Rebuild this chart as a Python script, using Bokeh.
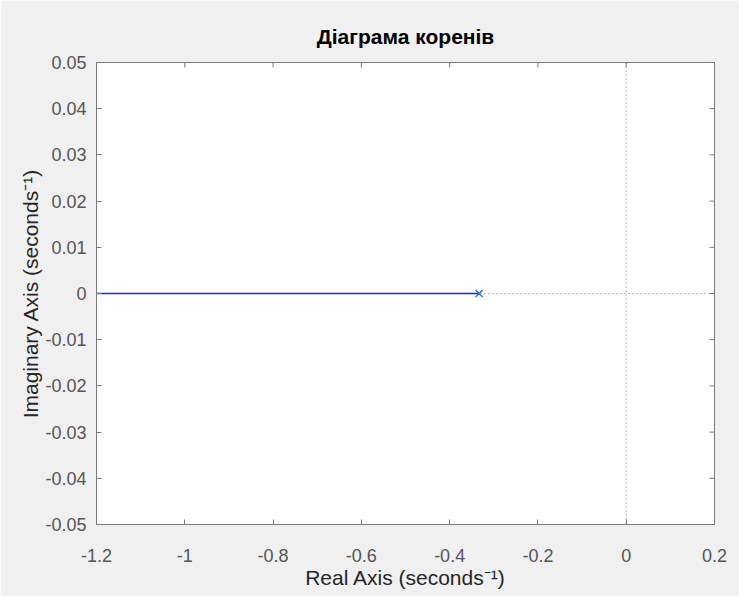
import math
from bokeh.plotting import figure
from bokeh.models import FixedTicker, Span, Range1d
from bokeh.embed import file_html
from bokeh.resources import INLINE

# data
pole_real = [-0.3333]
pole_imag = [0.0]
locus_real = [-1.2, -0.3333]
locus_imag = [0.0, 0.0]
x_ticks = [-1.2, -1.0, -0.8, -0.6, -0.4, -0.2, 0.0, 0.2]
x_labels = ["-1.2", "-1", "-0.8", "-0.6", "-0.4", "-0.2", "0", "0.2"]
y_ticks = [-0.05, -0.04, -0.03, -0.02, -0.01, 0.0, 0.01, 0.02, 0.03, 0.04, 0.05]
y_labels = ["-0.05", "-0.04", "-0.03", "-0.02", "-0.01", "0", "0.01", "0.02", "0.03", "0.04", "0.05"]
title = "Діаграма коренів"
x_label = "Real Axis (seconds⁻¹)"
y_label = "Imaginary Axis (seconds⁻¹)"

FONT = "Liberation Sans"
AX = "#7a7a7a"
TXT = "#555555"
BG = "#f0f0f0"
X_MIN, X_MAX = -1.2, 0.2
Y_MIN, Y_MAX = -0.05, 0.05

p = figure(width=739, height=596, output_backend="svg", toolbar_location=None,
           x_range=Range1d(X_MIN, X_MAX), y_range=Range1d(Y_MIN, Y_MAX),
           min_border_left=96, min_border_right=25, min_border_top=62, min_border_bottom=72,
           background_fill_color="white", border_fill_color=BG)

p.title.text = title
p.title.align = "center"
p.title.text_font = FONT
p.title.text_font_size = "21px"
p.title.text_font_style = "bold"
p.title.text_color = "#000000"
p.title.standoff = 30

p.grid.visible = False
p.outline_line_color = AX
p.outline_line_width = 1

xlab = {float(t): l for t, l in zip(x_ticks, x_labels)}
ylab = {float(t): l for t, l in zip(y_ticks, y_labels)}

for ax in p.xaxis:
    ax.ticker = FixedTicker(ticks=x_ticks)
    ax.major_label_overrides = xlab
    ax.axis_label = x_label
    ax.major_label_standoff = 24
    ax.axis_label_standoff = 1
for ax in p.yaxis:
    ax.ticker = FixedTicker(ticks=y_ticks)
    ax.major_label_overrides = ylab
    ax.axis_label = y_label
    ax.major_label_standoff = 10
    ax.axis_label_standoff = 0

for ax in list(p.xaxis) + list(p.yaxis):
    ax.axis_line_color = AX
    ax.major_tick_line_color = AX
    ax.major_tick_in = 5
    ax.major_tick_out = 0
    ax.minor_tick_line_color = None
    ax.major_label_text_font = FONT
    ax.major_label_text_font_size = "18px"
    ax.major_label_text_color = TXT
    ax.axis_label_text_font = FONT
    ax.axis_label_text_font_size = "21px"
    ax.axis_label_text_font_style = "normal"
    ax.axis_label_text_color = "#262626"

# top and right box ticks (clipped to the frame, so half of each dash shows)
p.scatter(x_ticks, [Y_MAX] * len(x_ticks), marker="dash", size=10, angle=math.pi / 2,
          line_color=AX, line_width=1)
p.scatter([X_MAX] * len(y_ticks), y_ticks, marker="dash", size=10,
          line_color=AX, line_width=1)

p.add_layout(Span(location=0, dimension="width", line_color="#777777",
                  line_dash="1 3", line_width=1, level="underlay"))
p.add_layout(Span(location=0, dimension="height", line_color="#777777",
                  line_dash="1 3", line_width=1, level="underlay"))

p.line(locus_real, locus_imag, line_color="#1f1fff", line_width=1.6)
p.scatter(pole_real, pole_imag, marker="x", size=10, line_color="#2a78d6", line_width=1.5)

open("out.html", "w").write(file_html(p, INLINE))
